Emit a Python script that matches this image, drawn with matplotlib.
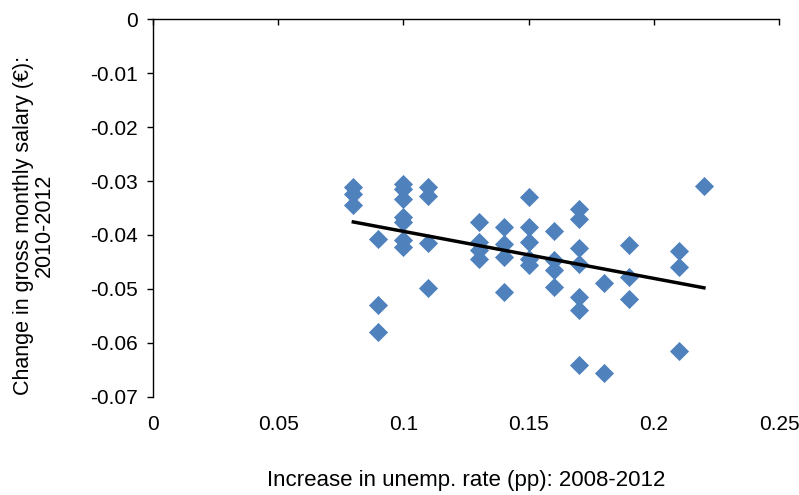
"""Scatter: change in gross monthly salary vs increase in unemployment rate, with linear trend."""

import matplotlib
matplotlib.use("Agg")
import matplotlib.pyplot as plt
import numpy as np

plt.rcParams["font.family"] = ["Liberation Sans", "DejaVu Sans"]

unemp_increase = [
    0.08, 0.08, 0.08,
    0.09, 0.09, 0.09,
    0.10, 0.10, 0.10, 0.10, 0.10, 0.10, 0.10,
    0.11, 0.11, 0.11, 0.11,
    0.13, 0.13, 0.13, 0.13,
    0.14, 0.14, 0.14, 0.14,
    0.15, 0.15, 0.15, 0.15, 0.15,
    0.16, 0.16, 0.16, 0.16,
    0.17, 0.17, 0.17, 0.17, 0.17, 0.17, 0.17,
    0.18, 0.18,
    0.19, 0.19, 0.19,
    0.21, 0.21, 0.21,
    0.22,
]
salary_change = [
    -0.0312, -0.0324, -0.0345,
    -0.0408, -0.0530, -0.0579,
    -0.0305, -0.0315, -0.0333, -0.0367, -0.0376, -0.0410, -0.0422,
    -0.0312, -0.0327, -0.0415, -0.0499,
    -0.0376, -0.0413, -0.0428, -0.0444,
    -0.0385, -0.0416, -0.0441, -0.0505,
    -0.0330, -0.0385, -0.0413, -0.0444, -0.0456,
    -0.0392, -0.0447, -0.0465, -0.0496,
    -0.0352, -0.0370, -0.0424, -0.0454, -0.0515, -0.0539, -0.0641,
    -0.0489, -0.0656,
    -0.0419, -0.0478, -0.0518,
    -0.0430, -0.0459, -0.0615,
    -0.0310,
]

x_ticks = [0, 0.05, 0.1, 0.15, 0.2, 0.25]
x_labels = ["0", "0.05", "0.1", "0.15", "0.2", "0.25"]
y_ticks = [0, -0.01, -0.02, -0.03, -0.04, -0.05, -0.06, -0.07]
y_labels = ["0", "-0.01", "-0.02", "-0.03", "-0.04", "-0.05", "-0.06", "-0.07"]

x = np.array(unemp_increase)
y = np.array(salary_change)

fig = plt.figure(figsize=(7.99, 4.95), dpi=100)
ax = fig.add_axes([0.1915, 0.198, 0.7835, 0.7636])

ax.scatter(x, y, marker="D", s=95, color="#4F81BD", linewidths=0, zorder=2)

# linear trend line over the data range
slope, intercept = np.polyfit(x, y, 1)
xs = np.array([x.min(), x.max()])
ax.plot(xs, slope * xs + intercept, color="black", linewidth=2.5, zorder=3)

ax.set_xlim(0, 0.25)
ax.set_ylim(-0.07, 0)
ax.set_xticks(x_ticks)
ax.set_xticklabels(x_labels)
ax.set_yticks(y_ticks)
ax.set_yticklabels(y_labels)

for side in ["right", "bottom"]:
    ax.spines[side].set_visible(False)
for side in ["top", "left"]:
    ax.spines[side].set_linewidth(1.0)
    ax.spines[side].set_zorder(4)

ax.tick_params(axis="x", top=True, bottom=False, labeltop=False, labelbottom=True,
               direction="in", length=4, width=1, labelsize=15, pad=13)
ax.tick_params(axis="y", direction="out", length=4, width=1, labelsize=15, pad=7)

ax.set_xlabel("Increase in unemp. rate (pp): 2008-2012", fontsize=16, labelpad=26)
ax.set_ylabel("Change in gross monthly salary (€):\n2010-2012", fontsize=15.5,
              linespacing=1.05)
ax.yaxis.set_label_coords(-0.156, 0.455)

fig.savefig("out.png", dpi=100)
plt.close(fig)
